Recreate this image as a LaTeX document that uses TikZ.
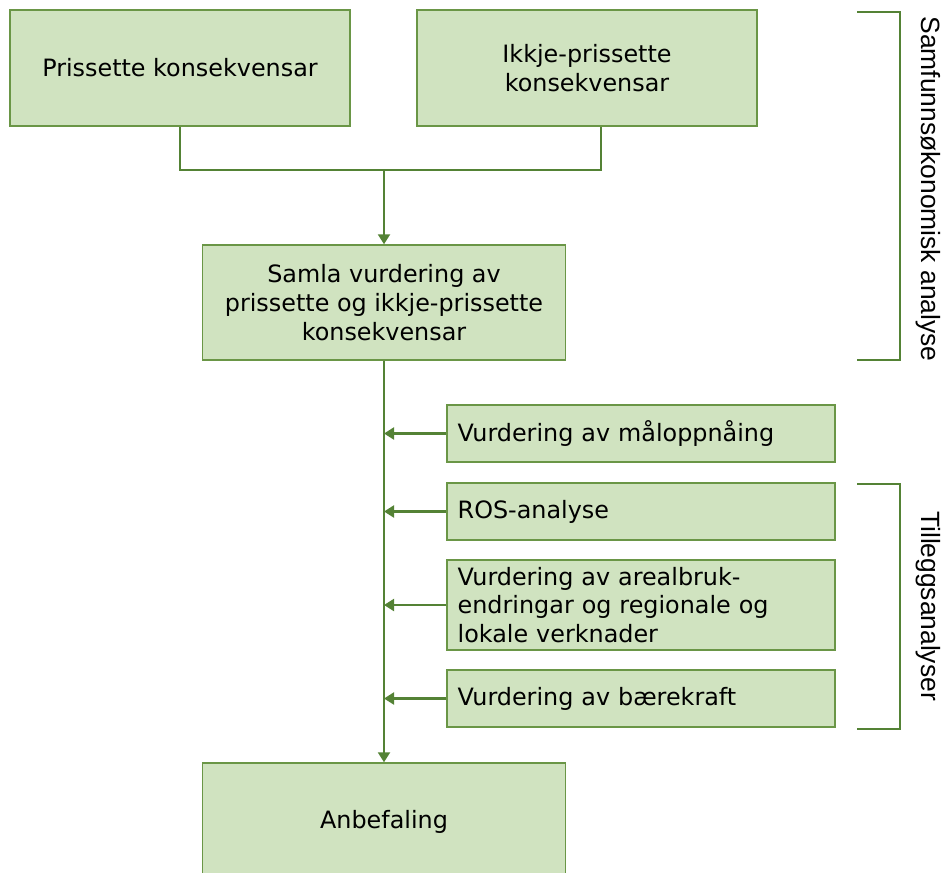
\documentclass[tikz,border=0pt]{standalone}
\usepackage{fontspec}
\setmainfont{DejaVu Sans}
\newfontfamily\sidefont{Liberation Sans}
\usetikzlibrary{arrows.meta}

\definecolor{boxfill}{RGB}{208,227,192}
\definecolor{boxline}{RGB}{106,150,70}
\definecolor{linkgreen}{RGB}{84,130,53}

\begin{document}
\begin{tikzpicture}
  [x=0.75pt,y=-0.75pt,
    every node/.style={font=\fontsize{17.9}{21.5}\selectfont,inner sep=0pt},
    bigbox/.style={draw=boxline,line width=1.1pt,fill=boxfill,align=center,
      minimum width=255pt,minimum height=87pt},
    midbox/.style={bigbox,minimum width=272.25pt,minimum height=86.25pt},
    sidebox/.style={draw=boxline,line width=1.1pt,fill=boxfill,align=left,
      text width=275pt,inner xsep=8pt,minimum height=42.75pt},
    link/.style={draw=linkgreen,line width=1.6pt},
    arr/.style={link,-{Triangle[width=9pt,length=7.5pt]}},
    brace/.style={draw=linkgreen,line width=1.3pt},
    sidelabel/.style={font=\sidefont\fontsize{19.8}{23}\selectfont,rotate=-90},
  ]
  \useasboundingbox (0,0) rectangle (944,872);
  % top row
  \node[bigbox] (prised) at (180,68) {Prissette konsekvensar};
  \node[bigbox] (unpriced) at (587,68) {Ikkje-prissette\\konsekvensar};
  \coordinate (join) at (384,170);
  \node[midbox] (overall) at (384,302.5)
    {Samla vurdering av\\prissette og ikkje-prissette\\konsekvensar};
  % extra analyses
  \node[sidebox] (goals) at (641,433.5) {Vurdering av måloppnåing};
  \node[sidebox] (ros) at (641,511.5) {ROS-analyse};
  \node[sidebox,minimum height=67.5pt] (landuse) at (641,605)
    {Vurdering av arealbruk-\\endringar og regionale og\\lokale verknader};
  \node[sidebox] (sustain) at (641,698.5) {Vurdering av bærekraft};
  \node[midbox,minimum height=88.5pt] (advice) at (384,822) {Anbefaling};

  \draw[link] (prised.south) |- (join) -| ([xshift=10.5pt]unpriced.south);
  \draw[arr] (join) -- (overall.north);
  \draw[arr] (overall.south) -- (advice.north);
  \foreach \n in {goals,ros,landuse,sustain}
    \draw[arr] (\n.west) -- (\n.west -| overall.south);

  % brackets
  \draw[brace] (857,12) -- (900,12) -- (900,360) -- (857,360);
  \draw[brace] (857,484) -- (900,484) -- (900,729) -- (857,729);
  \node[sidelabel] (samf) at (928,189) {Samfunnsøkonomisk analyse};
  \node[sidelabel] (tillegg) at (928,606) {Tilleggsanalyser};
\end{tikzpicture}
\end{document}
